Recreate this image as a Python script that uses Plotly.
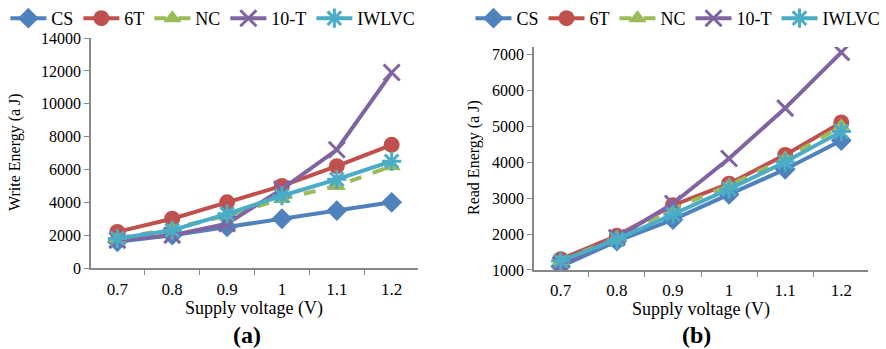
import plotly.graph_objects as go

voltages = ["0.7", "0.8", "0.9", "1", "1.1", "1.2"]
series_names = ["CS", "6T", "NC", "10-T", "IWLVC"]

write_cs = [1600, 2000, 2500, 3000, 3500, 4000]
write_6t = [2200, 3000, 4000, 5000, 6200, 7500]
write_nc = [1800, 2400, 3200, 4200, 5000, 6200]
write_10t = [1700, 2000, 2700, 4800, 7200, 11900]
write_iwlvc = [1800, 2300, 3300, 4400, 5400, 6500]

read_cs = [1100, 1800, 2400, 3100, 3800, 4600]
read_6t = [1300, 1950, 2800, 3400, 4200, 5100]
read_nc = [1250, 1900, 2700, 3350, 4100, 5000]
read_10t = [1150, 1900, 2850, 4100, 5500, 7050]
read_iwlvc = [1250, 1850, 2550, 3250, 4000, 4850]

colors = ["#4F81BD", "#C0504D", "#9BBB59", "#8064A2", "#4BACC6"]
symbols = ["diamond", "circle", "triangle-up", "x-thin-open", "asterisk-open"]
dashes = ["solid", "solid", "dash", "solid", "solid"]

write_data = [write_cs, write_6t, write_nc, write_10t, write_iwlvc]
read_data = [read_cs, read_6t, read_nc, read_10t, read_iwlvc]

FONT = "Liberation Serif"
fig = go.Figure()

for data, xa, ya, leg in [(write_data, "x", "y", "legend"), (read_data, "x2", "y2", "legend2")]:
    for name, vals, c, s, d in zip(series_names, data, colors, symbols, dashes):
        open_sym = s.endswith("open")
        fig.add_trace(go.Scatter(
            x=voltages, y=vals, name=name, mode="lines+markers",
            xaxis=xa, yaxis=ya, legend=leg,
            line=dict(color=c, width=4, dash=d),
            marker=dict(symbol=s, size=16, color=c,
                        line=dict(color=c, width=3 if open_sym else 0)),
        ))

axis_line = dict(showgrid=False, zeroline=False, showline=True, linecolor="#888888",
                 linewidth=1.5, ticks="outside", tickcolor="#888888", ticklen=5)
xfont = dict(family=FONT, size=17, color="black")
yfont = dict(family=FONT, size=16, color="black")

leg_common = dict(orientation="h", yanchor="top", itemwidth=36,
                  font=dict(family=FONT, size=18, color="black"),
                  tracegroupgap=0, bgcolor="rgba(0,0,0,0)")


def ann(text, xp, yp, size, angle=0):
    return dict(text=text, x=xp / 886, y=1 - yp / 349, xref="paper", yref="paper",
                xanchor="center", yanchor="middle", showarrow=False, textangle=angle,
                font=dict(family=FONT, size=size, color="black"))


fig.update_layout(
    width=886, height=349,
    margin=dict(l=0, r=0, t=0, b=0, autoexpand=False),
    paper_bgcolor="white", plot_bgcolor="white",
    showlegend=True,
    font=dict(family=FONT, color="black"),
    xaxis=dict(domain=[0.1027, 0.4718], anchor="y", type="category", tickson="boundaries",
               tickfont=xfont, ticklabelstandoff=5, **axis_line),
    yaxis=dict(domain=[0.232, 0.891], anchor="x", range=[0, 14000], dtick=2000,
               tickformat="d", tickfont=yfont, **axis_line),
    xaxis2=dict(domain=[0.6027, 0.9797], anchor="y2", type="category", tickson="boundaries",
                tickfont=xfont, ticklabelstandoff=4, **axis_line),
    yaxis2=dict(domain=[0.2264, 0.8653], anchor="x2", range=[1000, 7200], dtick=1000,
                tickformat="d", tickfont=yfont, **axis_line),
    legend=dict(x=0.006, y=1.0, xanchor="left", **leg_common),
    legend2=dict(x=0.531, y=1.0, xanchor="left", **leg_common),
    annotations=[
        ann("Supply voltage (V)", 254, 308, 18),
        ann("Supply voltage (V)", 701, 309, 18),
        ann("<b>(a)</b>", 247, 335, 24),
        ann("<b>(b)</b>", 696, 335, 24),
        ann("Write Energy (a J)", 15, 152, 16, -90),
        ann("Read Energy (a J)", 474, 158, 16, -90),
    ],
)

fig.write_html("out.html")
